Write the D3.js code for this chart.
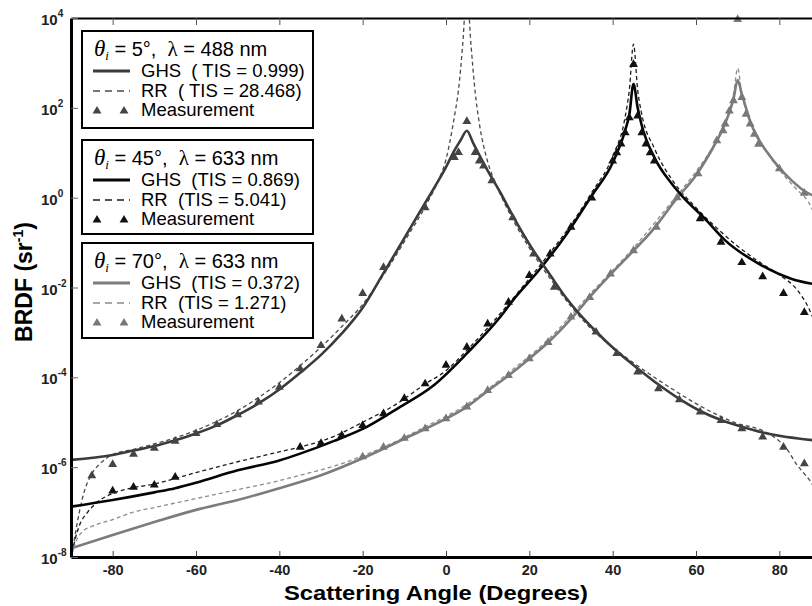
<!DOCTYPE html>
<html>
<head>
<meta charset="utf-8">
<script src="https://cdn.jsdelivr.net/npm/d3@7/dist/d3.min.js"></script>
<style>
body { margin: 0; background: #fff; }
svg { display: block; font-family: Arial, "Liberation Sans", sans-serif; }
text { white-space: pre; }
</style>
</head>
<body>
<svg id="chart" width="812" height="606"></svg>
<script>
// ---- data: [scattering angle (deg), BRDF (1/sr)] ----
const ghs5 = [[-90,1.45e-6],[-80,1.86e-6],[-75,2.34e-6],[-70,2.95e-6],[-65,3.98e-6],[-60,5.62e-6],[-55,8.5e-6],[-50,1.45e-5],[-45,2.63e-5],[-40,5.37e-5],[-35,1.26e-4],[-30,3.16e-4],[-25,9.5e-4],[-20,3.55e-3],[-15,2.09e-2],[-10,0.126],[-5,0.76],[-2,2.24],[0,4.8],[2,11.2],[3.5,19],[5,31],[6.5,16.6],[8,8.9],[10,4.0],[13,1.32],[16,0.40],[21,0.066],[25,0.019],[29,5.6e-3],[31,3.3e-3],[36,1.05e-3],[41,3.8e-4],[46,1.58e-4],[51,6.9e-5],[56,3.3e-5],[61,1.78e-5],[66,1.12e-5],[71,7.9e-6],[76,5.9e-6],[81,4.8e-6],[86,4.2e-6],[90,3.8e-6]];
const rr5 = [[-89.8,1.12e-8],[-89,3.16e-8],[-88,1.0e-7],[-87,2.5e-7],[-85,7.1e-7],[-83,1.2e-6],[-80,1.9e-6],[-75,2.5e-6],[-70,3.3e-6],[-65,4.5e-6],[-60,6.6e-6],[-55,1.05e-5],[-50,1.82e-5],[-45,3.55e-5],[-40,7.6e-5],[-35,1.82e-4],[-30,4.7e-4],[-25,1.35e-3],[-20,4.2e-3],[-15,1.9e-2],[-10,0.105],[-5,0.63],[-2,2.24],[0,7.1],[2,63],[3,250],[4,2500],[5,40000],[6,2500],[7,224],[8,45],[10,6.3],[12,2.0],[15,0.5],[20,0.076],[25,0.0158],[30,3.8e-3],[35,1.17e-3],[40,4.7e-4],[45,2.1e-4],[50,1.0e-4],[55,5.0e-5],[60,2.6e-5],[65,1.48e-5],[70,9.3e-6],[75,7.1e-6],[78,5.2e-6],[80,3.8e-6],[82,2.4e-6],[84,1.2e-6],[86,7.1e-7],[88,4.0e-7],[90,1.26e-7]];
const meas5 = [[-85,6.5e-7],[-80,1.15e-6],[-75,1.95e-6],[-70,2.63e-6],[-65,3.8e-6],[-60,5.6e-6],[-55,8.9e-6],[-50,1.48e-5],[-45,2.82e-5],[-40,6.0e-5],[-35,1.55e-4],[-30,5.1e-4],[-25,2.0e-3],[-20,7.4e-3],[-15,2.8e-2],[-5,0.60],[2,7.9],[3,10.2],[5,50],[7,10.2],[8,6.6],[9,5.1],[11,2.4],[16,0.36],[21,0.056],[26,0.0102],[36,1.02e-3],[41,3.4e-4],[46,1.32e-4],[51,5.6e-5],[56,3.16e-5],[61,1.7e-5],[66,1.1e-5],[71,7.2e-6],[76,4.7e-6],[81,2.8e-6],[86,1.2e-6]];

const ghs45 = [[-90,1.32e-7],[-80,1.86e-7],[-70,2.75e-7],[-65,3.4e-7],[-60,4.5e-7],[-50,8.5e-7],[-40,1.41e-6],[-35,2.0e-6],[-27,3.8e-6],[-19,7.9e-6],[-11,2.2e-5],[-3,6.6e-5],[5,3.4e-4],[13,2.2e-3],[16,5.1e-3],[22,0.0224],[29,0.158],[35,1.12],[40,6.0],[43,31.6],[44,71],[45,340],[46,100],[47,40],[50,7.9],[54,2.14],[57,1.0],[62,0.35],[67,0.112],[75,0.034],[83,0.0155],[90,0.0112]];
const rr45 = [[-89.7,1.26e-8],[-89,2.5e-8],[-88,5.0e-8],[-86,1.0e-7],[-84,1.58e-7],[-80,2.6e-7],[-75,3.5e-7],[-70,4.2e-7],[-65,5.6e-7],[-60,7.6e-7],[-55,1.0e-6],[-50,1.32e-6],[-45,1.7e-6],[-40,2.2e-6],[-35,2.8e-6],[-27,4.8e-6],[-20,1.0e-5],[-12,2.5e-5],[-5,7.1e-5],[0,1.41e-4],[5,4.0e-4],[13,2.6e-3],[20,0.0158],[25,0.060],[30,0.25],[35,1.32],[40,8.3],[43,63],[44,250],[45,2630],[46,250],[47,71],[50,12.6],[55,2.0],[60,0.6],[65,0.21],[70,0.083],[75,0.038],[80,0.019],[84,9.5e-3],[87,3.55e-3],[89,1.26e-3]];
const meas45 = [[-80,2.95e-7],[-75,3.6e-7],[-70,4.0e-7],[-65,6.0e-7],[-35,2.8e-6],[-30,3.4e-6],[-25,5.1e-6],[-20,8.5e-6],[-15,1.55e-5],[-10,3.4e-5],[-5,7.2e-5],[0,1.86e-4],[5,4.7e-4],[10,1.55e-3],[15,4.7e-3],[20,0.0186],[25,0.056],[30,0.22],[35,0.98],[40,6.6],[41,10],[42,15.8],[43,28],[44,60],[45,930],[46,66],[47,28],[48,15.8],[49,10],[50,6.6],[61,0.34],[66,0.102],[71,0.036],[76,0.0174],[81,7.4e-3],[86,2.8e-3]];

const ghs70 = [[-90,1.55e-8],[-80,3.1e-8],[-70,6.0e-8],[-60,1.12e-7],[-50,1.86e-7],[-40,3.4e-7],[-30,6.6e-7],[-20,1.58e-6],[-10,4.3e-6],[0,1.2e-5],[5,2.2e-5],[10,5.0e-5],[15,1.1e-4],[20,2.6e-4],[25,6.6e-4],[30,2.0e-3],[35,6.9e-3],[40,0.022],[45,0.066],[50,0.21],[55,0.87],[60,3.16],[64,12.6],[66,28],[68,79],[69,158],[70,417],[71,200],[72,100],[73,50],[75,20],[77,10.5],[80,4.6],[83,2.4],[86,1.41],[90,0.95]];
const rr70 = [[-89.8,1.12e-8],[-89,2.0e-8],[-87.5,3.5e-8],[-85,4.8e-8],[-80,6.8e-8],[-75,1.0e-7],[-70,1.26e-7],[-60,2.0e-7],[-50,3.16e-7],[-40,5.0e-7],[-35,6.6e-7],[-25,1.2e-6],[-15,2.8e-6],[-5,7.9e-6],[5,2.5e-5],[15,1.26e-4],[25,7.6e-4],[35,7.9e-3],[45,0.076],[55,1.0],[60,3.8],[65,20],[68,89],[69,200],[70,760],[71,200],[72,89],[75,22],[80,4.2],[84,1.58],[87,0.79],[89,0.32]];
const meas70 = [[-20,1.7e-6],[-15,2.8e-6],[-10,4.4e-6],[-5,7.2e-6],[0,1.2e-5],[5,2.2e-5],[10,5.1e-5],[15,1.1e-4],[20,2.6e-4],[24.5,6.0e-4],[30,2.2e-3],[34.5,6.0e-3],[39.5,0.02],[45,0.066],[50.5,0.22],[55.5,1.0],[60.5,3.4],[65,18.6],[66.5,31],[67,44],[68,85],[69,145],[70,9300],[71,170],[72,72],[73,44],[74,26],[75,15.5],[80,4.4],[86,1.26]];

// legend texts
const incidence = ['5°', '45°', '70°'];
const wavelength = ['488 nm', '633 nm', '633 nm'];
const ghsTIS = ['GHS  ( TIS = 0.999)', 'GHS  (TIS = 0.869)', 'GHS  (TIS = 0.372)'];
const rrTIS = ['RR  ( TIS = 28.468)', 'RR  (TIS = 5.041)', 'RR  (TIS = 1.271)'];

// ticks
const xTicks = [-80, -60, -40, -20, 0, 20, 40, 60, 80];
const yExponents = [4, 2, 0, -2, -4, -6, -8];

const groups = [
    { ghs: ghs5, rr: rr5, meas: meas5, solid: '#3b3b3b', dash: '#4a4a4a', mark: '#444' },
    { ghs: ghs45, rr: rr45, meas: meas45, solid: '#050505', dash: '#1a1a1a', mark: '#111' },
    { ghs: ghs70, rr: rr70, meas: meas70, solid: '#7c7c7c', dash: '#8c8c8c', mark: '#787878' }
];

const svg = d3.select('#chart');

const margin = { top: 18, left: 71 };
const width = 750;
const height = 539;

const xScale = d3.scaleLinear().domain([-90, 90]).range([0, width]);
const yScale = d3.scaleLog().domain([1e-8, 1e4]).range([height, 0]);

svg.append('defs').append('clipPath').attr('id', 'plotclip')
    .append('rect').attr('x', 0).attr('y', 0).attr('width', width).attr('height', height);

const chart = svg.append('g')
    .attr('transform', `translate(${margin.left}, ${margin.top})`);

const line = d3.line()
    .x(d => xScale(d[0]))
    .y(d => yScale(d[1]))
    .curve(d3.curveMonotoneX);

const curves = chart.append('g').attr('clip-path', 'url(#plotclip)');

// dashed RR curves first, then GHS solid on top
groups.forEach(g => {
    curves.append('path')
        .datum(g.rr)
        .attr('fill', 'none')
        .attr('stroke', g.dash)
        .attr('stroke-width', 1.3)
        .attr('stroke-dasharray', '4,3')
        .attr('d', line);
});
groups.slice().reverse().forEach(g => {
    curves.append('path')
        .datum(g.ghs)
        .attr('fill', 'none')
        .attr('stroke', g.solid)
        .attr('stroke-width', 2.6)
        .attr('d', line);
});

const tri = d3.symbol().type(d3.symbolTriangle).size(34);
groups.forEach(g => {
    chart.append('g').selectAll('path')
        .data(g.meas)
        .enter()
        .append('path')
        .attr('d', tri)
        .attr('fill', g.mark)
        .attr('transform', d => `translate(${xScale(d[0])}, ${yScale(d[1])})`);
});

/* axes */
chart.append('g')
    .attr('class', 'x axis')
    .attr('transform', `translate(0, ${height})`)
    .call(d3.axisBottom(xScale).tickValues(xTicks).tickSizeInner(-6).tickSizeOuter(0).tickPadding(8).tickFormat(d3.format('d')))
    .call(g => g.select('.domain').attr('stroke-width', 3))
    .call(g => g.selectAll('.tick line').attr('stroke', '#444'))
    .call(g => g.selectAll('.tick text').attr('font-size', 14.5).attr('font-weight', 'bold').attr('fill', '#222')
        .attr('font-family', 'Arial, "Liberation Sans", sans-serif').text(d => d < 0 ? '-' + Math.abs(d) : d));

chart.append('g')
    .call(d3.axisTop(xScale).tickValues(xTicks).tickSizeInner(-7).tickSizeOuter(0).tickFormat(''))
    .call(g => g.select('.domain').attr('stroke-width', 2.2))
    .call(g => g.selectAll('.tick line').attr('stroke', '#555'));

chart.append('g')
    .call(d3.axisLeft(yScale).tickValues(yExponents.map(e => Math.pow(10, e))).tickSizeInner(-7).tickSizeOuter(0).tickFormat(''))
    .call(g => g.select('.domain').attr('stroke-width', 3))
    .call(g => g.selectAll('.tick line').attr('stroke', '#666'));

/* y tick labels 10^n */
const yLab = svg.append('g').attr('font-weight', 'bold').attr('fill', '#222');
yExponents.forEach(e => {
    const y = margin.top + yScale(Math.pow(10, e));
    const t = yLab.append('text').attr('x', 41).attr('y', y + 7).attr('font-size', 15);
    t.append('tspan').text('10');
    t.append('tspan').attr('font-size', 10).attr('dy', -8).text(e < 0 ? '-' + Math.abs(e) : e);
});

/* axis titles */
svg.append('text')
    .attr('x', 284).attr('y', 600)
    .attr('font-size', 21).attr('font-weight', 'bold')
    .attr('textLength', 304).attr('lengthAdjust', 'spacingAndGlyphs')
    .text('Scattering Angle (Degrees)');

const yt = svg.append('text')
    .attr('transform', 'translate(32, 282) rotate(-90)')
    .attr('text-anchor', 'middle')
    .attr('font-size', 23).attr('font-weight', 'bold');
yt.append('tspan').text('BRDF (sr');
yt.append('tspan').attr('font-size', 14).attr('dy', -9).text('-1');
yt.append('tspan').attr('dy', 9).text(')');

/* legend boxes */
const boxTops = [31, 140, 243];
const boxHeights = [97, 94, 95];
const legend = svg.append('g');
groups.forEach((g, i) => {
    const T = boxTops[i];
    const lg = legend.append('g');
    lg.append('rect')
        .attr('x', 82).attr('y', T).attr('width', 231).attr('height', boxHeights[i])
        .attr('fill', '#fff').attr('stroke', '#000').attr('stroke-width', 2);

    const title = lg.append('text').attr('x', 94).attr('y', T + 25).attr('font-size', 20);
    title.append('tspan').attr('font-family', '"Liberation Serif", "Times New Roman", serif').attr('font-style', 'italic').attr('font-size', 23).text('θ');
    title.append('tspan').attr('font-family', '"Liberation Serif", "Times New Roman", serif').attr('font-style', 'italic').attr('font-size', 13).attr('dy', 4).text('i');
    title.append('tspan').attr('dy', -4).text(' = ' + incidence[i] + ',  ');
    title.append('tspan').attr('font-family', '"Liberation Serif", "Times New Roman", serif').attr('font-size', 21).text('λ');
    title.append('tspan').text(' = ' + wavelength[i]);

    lg.append('line')
        .attr('x1', 93).attr('x2', 130).attr('y1', T + 40).attr('y2', T + 40)
        .attr('stroke', g.solid).attr('stroke-width', 3);
    lg.append('text').attr('x', 141).attr('y', T + 46).attr('font-size', 18.5).text(ghsTIS[i]);

    lg.append('line')
        .attr('x1', 93).attr('x2', 130).attr('y1', T + 60).attr('y2', T + 60)
        .attr('stroke', g.dash).attr('stroke-width', 1.4).attr('stroke-dasharray', '7,5');
    lg.append('text').attr('x', 141).attr('y', T + 66).attr('font-size', 18.5).text(rrTIS[i]);

    [97, 124].forEach(px => {
        lg.append('path').attr('d', tri).attr('fill', g.mark)
            .attr('transform', `translate(${px}, ${T + 80})`);
    });
    lg.append('text').attr('x', 141).attr('y', T + 85).attr('font-size', 18.5).text('Measurement');
});
</script>
</body>
</html>
